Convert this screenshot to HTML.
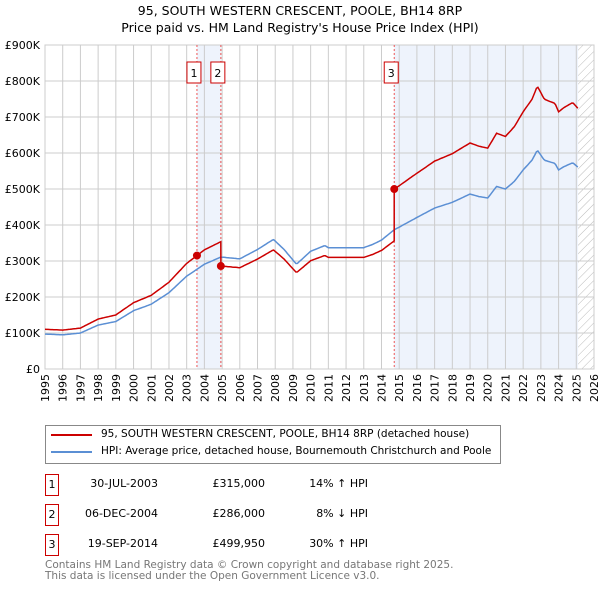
<!DOCTYPE html>
<html><head><meta charset="utf-8"><style>
body{margin:0;background:#fff;font-family:"DejaVu Sans","Liberation Sans",sans-serif;}
#wrap{position:relative;width:600px;height:590px;overflow:hidden}
.t{position:absolute;font-size:11px;color:#000;white-space:nowrap}
.box{position:absolute;border:1px solid #c00;width:12px;height:20px;font-size:11px;text-align:center;line-height:20px}
</style></head><body><div id="wrap">
<div class="t" style="left:0;width:600px;text-align:center;top:3px;font-size:12.5px">95, SOUTH WESTERN CRESCENT, POOLE, BH14 8RP</div>
<div class="t" style="left:0;width:600px;text-align:center;top:20px;font-size:12.5px">Price paid vs. HM Land Registry's House Price Index (HPI)</div>
<svg id="chart" width="600" height="410" style="position:absolute;left:0;top:0;font-family:'DejaVu Sans',sans-serif"></svg>
<div style="position:absolute;left:45px;top:425px;width:454px;height:37px;border:1px solid #888">
<div style="position:absolute;left:5px;top:8px;width:41px;height:2px;background:#c00"></div>
<div class="t" style="left:55px;top:2px;font-size:10.5px">95, SOUTH WESTERN CRESCENT, POOLE, BH14 8RP (detached house)</div>
<div style="position:absolute;left:5px;top:25px;width:41px;height:2px;background:#5b8fd4"></div>
<div class="t" style="left:55px;top:19px;font-size:10.5px">HPI: Average price, detached house, Bournemouth Christchurch and Poole</div>
</div>
<div id="tbl"></div>
<div class="t" style="left:45px;top:560px;font-size:10.5px;color:#777;line-height:11px">Contains HM Land Registry data © Crown copyright and database right 2025.<br>This data is licensed under the Open Government Licence v3.0.</div>
</div>
<script>
const hpiYears=[1995,1996,1997,1998,1999,2000,2001,2002,2003,2003.58,2004,2004.93,2006,2007,2007.9,2008.5,2009.2,2010,2010.8,2011,2012,2013,2013.5,2014,2014.72,2015,2016,2017,2018,2019,2019.5,2020,2020.5,2021,2021.5,2022,2022.5,2022.8,2023.2,2023.8,2024,2024.3,2024.8,2025.1];
const hpiValues=[97,95,100,122,132,162,180,212,258,277,291,311,306,332,360,332,291,327,343,337,337,337,346,358,387,394,421,447,463,486,479,475,507,500,521,553,580,608,580,571,553,562,573,560];
const saleYears=[2003.58,2004.93,2014.72];
const salePrices=[315,286,499.95];
const saleLabels=["1","2","3"];
const saleDates=["30-JUL-2003","06-DEC-2004","19-SEP-2014"];
const salePriceText=["£315,000","£286,000","£499,950"];
const saleHpiText=["14% ↑ HPI","8% ↓ HPI","30% ↑ HPI"];
const yTicks=[0,100,200,300,400,500,600,700,800,900];
const yTickLabels=["£0","£100K","£200K","£300K","£400K","£500K","£600K","£700K","£800K","£900K"];
const xTicks=[];for(let y=1995;y<=2026;y++)xTicks.push(y);
const X0=45,X1=594,Y0=369,Y1=45;
const xs=y=>X0+(y-1995)/(2026-1995)*(X1-X0);
const ys=v=>Y0-v/900*(Y0-Y1);
const svg=document.getElementById('chart');const NS='http://www.w3.org/2000/svg';
function mk(t,a,p){const e=document.createElementNS(NS,t);for(const k in a)e.setAttribute(k,a[k]);(p||svg).appendChild(e);return e;}
function hpiAt(y){for(let i=0;i<hpiYears.length-1;i++){if(y<=hpiYears[i+1])return hpiValues[i]+(hpiValues[i+1]-hpiValues[i])*(y-hpiYears[i])/(hpiYears[i+1]-hpiYears[i]);}return hpiValues[hpiValues.length-1];}
const defs=mk('defs',{});const pat=mk('pattern',{id:'hatch',width:6,height:6,patternUnits:'userSpaceOnUse',patternTransform:'rotate(45)'},defs);mk('line',{x1:0,y1:0,x2:0,y2:6,stroke:'#bbb','stroke-width':1},pat);
let e=mk('rect',{x:xs(saleYears[0]),y:Y1,width:xs(saleYears[1])-xs(saleYears[0]),height:Y0-Y1,fill:'#eef3fc'});
const last=hpiYears[hpiYears.length-1];
e=mk('rect',{x:xs(saleYears[2]),y:Y1,width:xs(last)-xs(saleYears[2]),height:Y0-Y1,fill:'#eef3fc'});
e=mk('rect',{x:xs(last),y:Y1,width:X1-xs(last),height:Y0-Y1,fill:'url(#hatch)'});
xTicks.forEach(y=>{mk('line',{x1:xs(y),x2:xs(y),y1:Y1,y2:Y0,stroke:'#ccc'});const t=mk('text',{x:xs(y)+4,y:374,'text-anchor':'end','font-size':11,transform:`rotate(-90 ${xs(y)+4} 374)`});t.textContent=y;});
yTicks.forEach((v,i)=>{mk('line',{x1:X0,x2:X1,y1:ys(v),y2:ys(v),stroke:'#ccc'});const t=mk('text',{x:40,y:ys(v)+4,'text-anchor':'end','font-size':11});t.textContent=yTickLabels[i];});
mk('rect',{x:X0,y:Y1,width:X1-X0,height:Y0-Y1,fill:'none',stroke:'#ccc'});
saleYears.forEach((y,i)=>{e=mk('line',{x1:xs(y),x2:xs(y),y1:Y1,y2:Y0,stroke:'#e55','stroke-dasharray':'2,2','stroke-width':1});
 const off=i==1?-3:-3;mk('rect',{x:xs(y)+off-7,y:62,width:14,height:21,fill:'#fff',stroke:'#c00'});const t=mk('text',{x:xs(y)+off,y:77,'text-anchor':'middle','font-size':11});t.textContent=saleLabels[i];});
let d='';for(let y=1995;y<=last+1e-6;y+=1/12){d+=(d?'L':'M')+xs(y).toFixed(1)+','+ys(hpiAt(y)).toFixed(1);}
e=mk('path',{d:d,fill:'none',stroke:'#5b8fd4','stroke-width':1.5});
function redAt(y){let k=0;while(k<saleYears.length-1&&y>=saleYears[k+1])k++;return salePrices[k]*hpiAt(y)/hpiAt(saleYears[k]);}
d='';for(let y=1995;y<=last+1e-6;y+=1/12){let pts=[y];saleYears.forEach(s=>{if(s>y-1/12&&s<=y){pts=[s-0.001,s,y];}});pts.forEach(p=>{d+=(d?'L':'M')+xs(p).toFixed(1)+','+ys(redAt(p)).toFixed(1);});}
e=mk('path',{d:d,fill:'none',stroke:'#c00','stroke-width':1.5});
saleYears.forEach((y,i)=>{e=mk('circle',{cx:xs(y),cy:ys(salePrices[i]),r:4,fill:'#c00'});});
const tbl=document.getElementById('tbl');
saleLabels.forEach((l,i)=>{const top=474+i*30;
 tbl.insertAdjacentHTML('beforeend',`<div class="box" style="left:45px;top:${top}px">${l}</div>
 <div class="t" style="left:70px;width:88px;text-align:right;top:${top+3}px">${saleDates[i]}</div>
 <div class="t" style="left:180px;width:85px;text-align:right;top:${top+3}px">${salePriceText[i]}</div>
 <div class="t" style="left:290px;width:78px;text-align:right;top:${top+3}px">${saleHpiText[i]}</div>`);});
</script></body></html>
